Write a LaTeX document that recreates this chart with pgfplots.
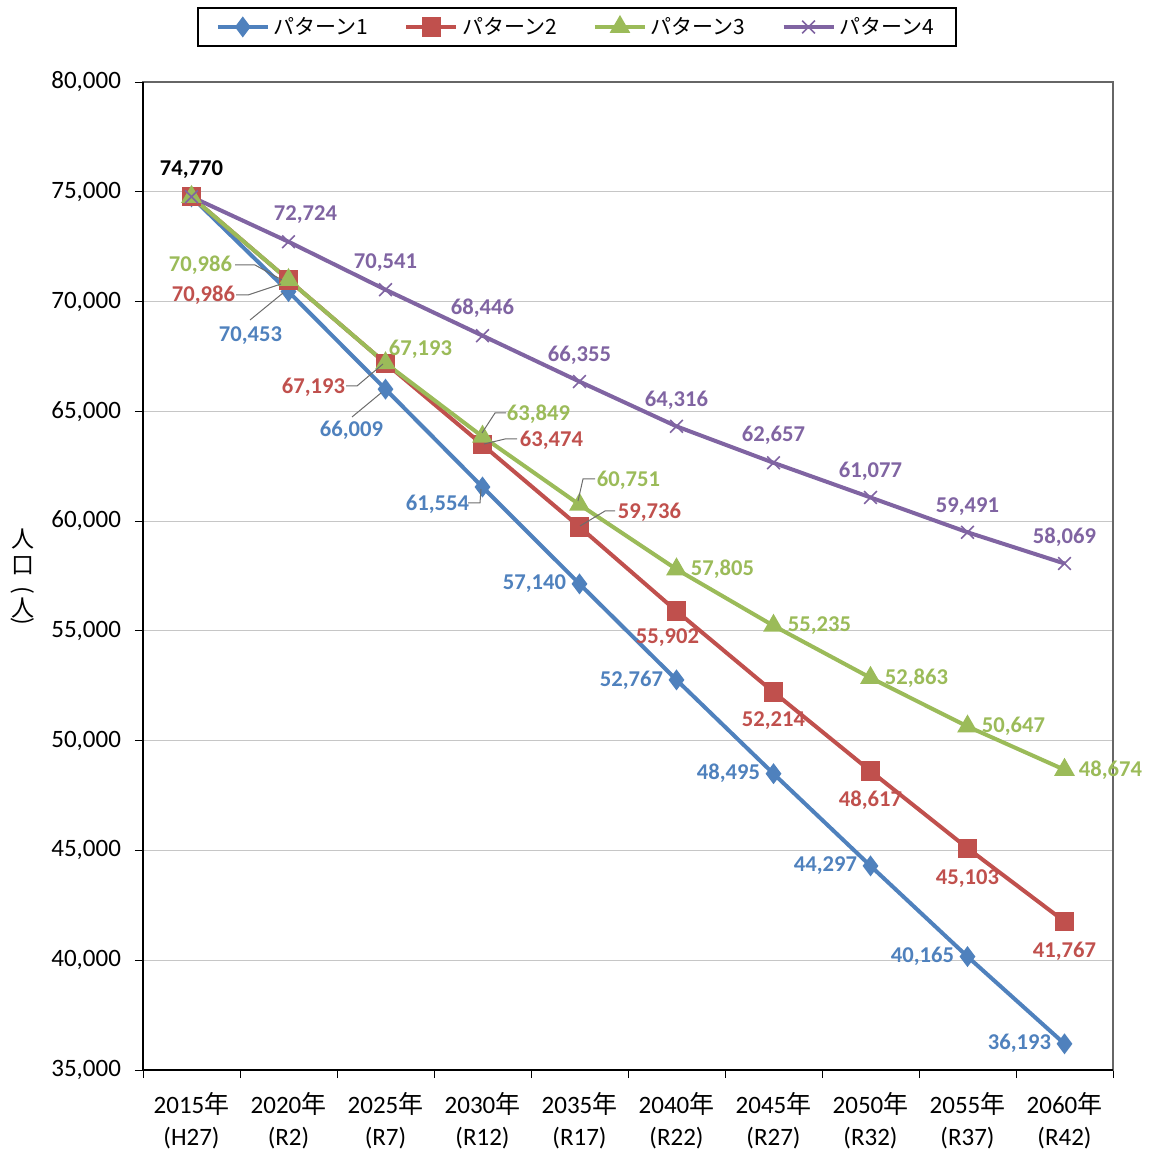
\documentclass[border=0pt]{standalone}
\usepackage{pgfplots}
\pgfplotsset{compat=1.18}
\usepackage{pgfplotstable}
\usepackage{fontspec}
\setmainfont{Carlito}
\newfontfamily\cjk{Noto Sans CJK JP}

\definecolor{c1}{HTML}{4F81BD}
\definecolor{c2}{HTML}{C0504D}
\definecolor{c3}{HTML}{9BBB59}
\definecolor{c4}{HTML}{8064A2}

% x = category index, y = population, dx/dy = label offset (pt)
\pgfplotstableread{
x y dx dy
0 74770 0 13.5
1 70453 -19 -22
2 66009 -17 -20.5
3 61554 -22.5 -8.5
4 57140 -22.5 0
5 52767 -22.5 0
6 48495 -22.5 0
7 44297 -22.5 0
8 40165 -22.5 0
9 36193 -22.5 0
}\pone
\pgfplotstableread{
x y dx dy
0 74770 0 0
1 70986 -42.5 -7.5
2 67193 -36 -12
3 63474 34.5 2.5
4 59736 35 7.5
5 55902 -4.5 -13.5
6 52214 0 -14.5
7 48617 0 -14.5
8 45103 0 -15
9 41767 0 -15
}\ptwo
\pgfplotstableread{
x y dx dy
0 74770 0 0
1 70986 -44 7.5
2 67193 17.5 7
3 63849 28 11
4 60751 24.5 12
5 57805 23 0
6 55235 23 0
7 52863 23 0
8 50647 23 0
9 48674 23 0
}\pthree
\pgfplotstableread{
x y dx dy
0 74770 0 0
1 72724 8.5 13.5
2 70541 0 13.5
3 68446 0 13.5
4 66355 0 13
5 64316 0 13
6 62657 0 13.5
7 61077 0 13
8 59491 0 13
9 58069 0 13
}\pfour

\pgfplotsset{
  lab/.style={
    nodes near coords={\ifdim\ci pt<0.5pt\relax\else\pgfmathprintnumber{\pgfplotspointmeta}\fi},
    point meta=y,
    visualization depends on={\coordindex\as\ci},
    visualization depends on={\thisrow{dx}\as\dx},
    visualization depends on={\thisrow{dy}\as\dy},
    every node near coord/.append style={
      anchor=center, inner sep=1pt, text=#1,
      font=\fontsize{11.3}{13}\selectfont\bfseries,
      xshift=\dx pt, yshift=\dy pt,
      /pgf/number format/fixed,
      /pgf/number format/precision=0,
      /pgf/number format/1000 sep={,},
      /pgf/number format/assume math mode=true},
  },
}

\begin{document}
\begin{tikzpicture}
\begin{axis}[
  scale only axis,
  width=485pt, height=494pt,
  xmin=-0.5, xmax=9.5,
  ymin=35000, ymax=80000,
  ytick={35000,40000,...,80000},
  scaled y ticks=false,
  yticklabel style={/pgf/number format/fixed, /pgf/number format/1000 sep={,}, xshift=-3.5pt},
  xtick={0,...,9},
  xticklabels={
    {2015\cjk{年}\\(H27)},{2020\cjk{年}\\(R2)},{2025\cjk{年}\\(R7)},
    {2030\cjk{年}\\(R12)},{2035\cjk{年}\\(R17)},{2040\cjk{年}\\(R22)},
    {2045\cjk{年}\\(R27)},{2050\cjk{年}\\(R32)},{2055\cjk{年}\\(R37)},
    {2060\cjk{年}\\(R42)}},
  xticklabel style={align=center, text depth=0pt, yshift=-3.5pt},
  minor xtick={-0.5,0.5,...,9.5},
  major x tick style={draw=none},
  minor x tick style={black, thin},
  y tick style={black, thin},
  tick pos=left,
  tick align=outside,
  major tick length=4pt,
  minor tick length=4pt,
  tick label style={font=\fontsize{12.5}{16}\selectfont},
  /pgf/number format/assume math mode=true,
  ymajorgrids,
  grid style={gray!45, line width=0.6pt},
  axis line style={gray!80!black, line width=0.6pt},
  clip=false,
  legend columns=4,
  legend style={at={(0.4474,1.0557)}, anchor=center, draw=black,
    line width=0.8pt, font=\cjk\fontsize{10.5}{12}\selectfont,
    inner xsep=9pt, inner ysep=2.5pt,
    /tikz/every even column/.append style={column sep=16pt}},
  legend image code/.code={
    \draw[mark repeat=2, mark phase=2] plot coordinates {(0pt,0pt) (12.5pt,0pt) (25pt,0pt)};},
]
\addplot[c1, line width=2pt, mark=diamond*, mark size=3.6pt, mark options={fill=c1},
  lab=c1, nodes near coords={\ifdim\ci pt<0.5pt\relax\textcolor{black}{\pgfmathprintnumber{\pgfplotspointmeta}}\else\pgfmathprintnumber{\pgfplotspointmeta}\fi}]
  table[x=x, y=y] {\pone};
\addlegendentry{パターン1}
\addplot[c2, line width=2pt, mark=square*, mark size=3.8pt, mark options={fill=c2}, lab=c2]
  table[x=x, y=y] {\ptwo};
\addlegendentry{パターン2}
\addplot[c3, line width=2pt, mark=triangle*, mark size=4pt, mark options={fill=c3}, lab=c3]
  table[x=x, y=y] {\pthree};
\addlegendentry{パターン3}
\addplot[c4, line width=2pt, mark=x, mark size=4.5pt, mark options={line width=0.8pt}, lab=c4]
  table[x=x, y=y] {\pfour};
\addlegendentry{パターン4}
\end{axis}
\draw[black, line width=1pt] (0,494pt) -- (0,0) -- (485pt,0);
% pixel-like frame for annotations
\begin{scope}[xshift=-71.5pt, yshift=535pt, x=0.5pt, y=-0.5pt]
  \begin{scope}[gray!85!black, line width=0.5pt]
    \draw (235,265) -- (255,265) -- (282,280);
    \draw (236,295) -- (248,295) -- (281,284);
    \draw (250,320) -- (283,293);
    \draw (346,386) -- (357,386) -- (383,364);
    \draw (352,417) -- (381,393);
    \draw (506,413) -- (495,413) -- (482,433);
    \draw (517,439) -- (505,439) -- (484,444);
    \draw (468,503) -- (480,503) -- (481,489);
    \draw (595,479) -- (583,479) -- (578,501);
    \draw (615,511) -- (605,511) -- (580,526);
  \end{scope}
  \begin{scope}[every node/.style={font=\cjk\fontsize{11.5}{12}\selectfont, inner sep=0pt}]
    \node at (23,539) {人};
    \node at (23,566) {口};
    \node[rotate=-90] at (23,590) {(};
    \node at (23,608) {人};
    \node[rotate=-90] at (23,621) {)};
  \end{scope}
  \pgfresetboundingbox
  \path (0,0) rectangle (1148,1151);
\end{scope}
\end{tikzpicture}
\end{document}
